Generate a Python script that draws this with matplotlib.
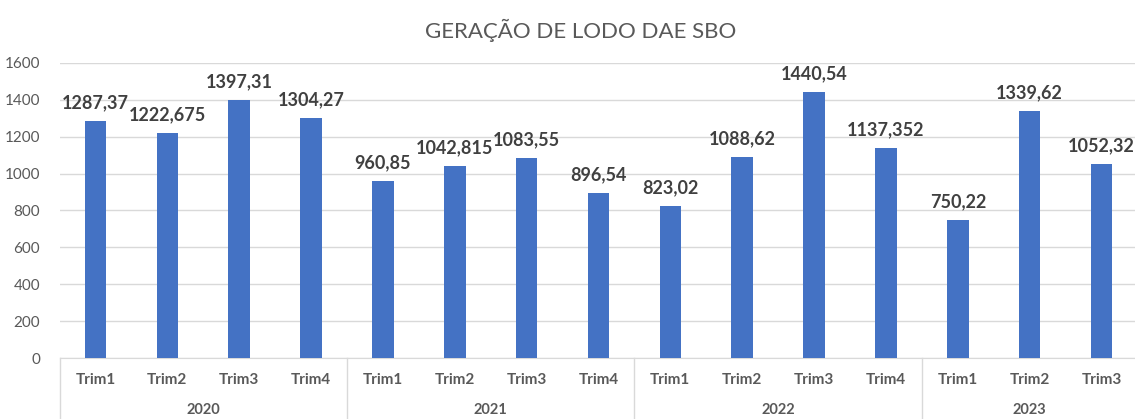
import numpy as np
import matplotlib
matplotlib.use("Agg")
import matplotlib.pyplot as plt
import matplotlib.transforms as mtransforms

plt.rcParams['font.family'] = ['Lato', 'DejaVu Sans']

anos = ["2020", "2021", "2022", "2023"]
trimestres = ["Trim1", "Trim2", "Trim3", "Trim4",
              "Trim1", "Trim2", "Trim3", "Trim4",
              "Trim1", "Trim2", "Trim3", "Trim4",
              "Trim1", "Trim2", "Trim3"]
grupo_tamanho = [4, 4, 4, 3]
lodo = [1287.37, 1222.675, 1397.31, 1304.27,
        960.85, 1042.815, 1083.55, 896.54,
        823.02, 1088.62, 1440.54, 1137.352,
        750.22, 1339.62, 1052.32]
rotulos = ["1287,37", "1222,675", "1397,31", "1304,27",
           "960,85", "1042,815", "1083,55", "896,54",
           "823,02", "1088,62", "1440,54", "1137,352",
           "750,22", "1339,62", "1052,32"]

W, H = 1135, 419
fig = plt.figure(figsize=(W / 100, H / 100), dpi=100)
ax = fig.add_axes([59.5 / W, (H - 358) / H, 1078 / W, 295 / H])

x = np.arange(len(lodo))
ax.bar(x, lodo, width=0.3, color="#4472C4", zorder=3)
for xi, v, r in zip(x, lodo, rotulos):
    ax.annotate(r, (xi, v), xytext=(0, 7), textcoords="offset points",
                ha="center", va="bottom", fontsize=13, fontweight="bold",
                color="#404040")

ax.set_xlim(-0.5, len(lodo) - 0.5)
ax.set_ylim(0, 1600)
ax.set_yticks(np.arange(0, 1601, 200))
ax.tick_params(axis="y", length=0, labelsize=11, labelcolor="#595959", pad=14)
ax.yaxis.grid(True, color="#D9D9D9", linewidth=1, zorder=0)
for s in ["top", "right", "left"]:
    ax.spines[s].set_visible(False)
ax.spines["bottom"].set_color("#D9D9D9")

ax.set_xticks(x)
ax.set_xticklabels(trimestres)
ax.tick_params(axis="x", length=0, labelsize=11, labelcolor="#595959", pad=11)
for t in ax.get_xticklabels():
    t.set_fontweight("bold")

trans = mtransforms.blended_transform_factory(ax.transData, ax.transAxes)
inicio = 0
fronteiras = [-0.5]
for ano, n in zip(anos, grupo_tamanho):
    centro = inicio + (n - 1) / 2
    ax.text(centro, -0.177, ano, transform=trans, ha="center", va="center",
            fontsize=10.5, fontweight="bold", color="#595959")
    inicio += n
    fronteiras.append(inicio - 0.5)
for f in fronteiras:
    ax.plot([f, f], [0, -0.22], transform=trans, color="#D9D9D9",
            linewidth=1, clip_on=False)

fig.text(581 / W, 1 - 30 / H, "GERAÇÃO DE LODO DAE SBO", ha="center",
         va="center", fontsize=16, color="#595959")

fig.savefig("out.png", dpi=100, facecolor="white")
